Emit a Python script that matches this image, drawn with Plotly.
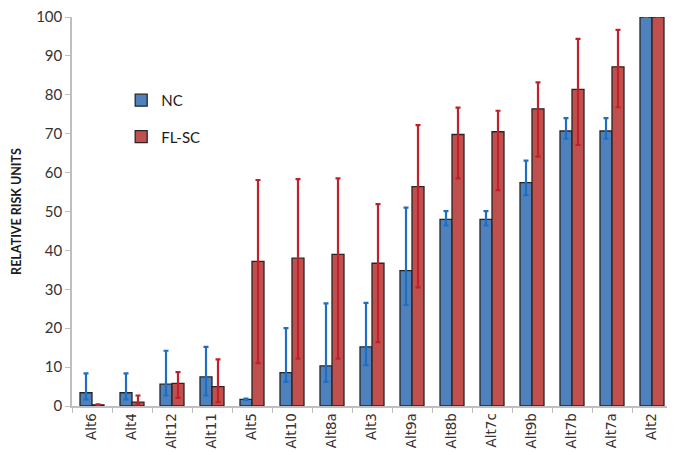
import plotly.graph_objects as go

categories = ["Alt6", "Alt4", "Alt12", "Alt11", "Alt5", "Alt10", "Alt8a", "Alt3",
              "Alt9a", "Alt8b", "Alt7c", "Alt9b", "Alt7b", "Alt7a", "Alt2"]

nc_values = [3.4, 3.4, 5.6, 7.5, 1.7, 8.6, 10.3, 15.2, 34.8, 48.0, 48.0, 57.4, 70.7, 70.7, 100]
nc_upper = [8.4, 8.4, 14.2, 15.2, 1.9, 20.0, 26.4, 26.5, 51.0, 50.1, 50.1, 63.1, 74.0, 74.0, 100]
nc_lower = [1.7, 1.7, 2.7, 2.7, 1.6, 6.2, 6.2, 10.5, 26.0, 46.4, 46.4, 54.2, 68.7, 68.7, 100]

fl_values = [0.3, 1.0, 5.8, 5.0, 37.2, 38.0, 39.0, 36.7, 56.4, 69.8, 70.5, 76.4, 81.4, 87.2, 100]
fl_upper = [0.4, 2.7, 8.7, 12.0, 58.1, 58.3, 58.5, 51.9, 72.2, 76.7, 75.9, 83.2, 94.4, 96.7, 100]
fl_lower = [0.2, 0.4, 2.1, 1.0, 11.0, 12.2, 12.2, 16.4, 30.5, 58.5, 55.5, 64.1, 67.1, 76.8, 100]

y_ticks = [0, 10, 20, 30, 40, 50, 60, 70, 80, 90, 100]


def diffs(vals, up, lo):
    return [u - v for u, v in zip(up, vals)], [v - l for v, l in zip(vals, lo)]


nc_plus, nc_minus = diffs(nc_values, nc_upper, nc_lower)
fl_plus, fl_minus = diffs(fl_values, fl_upper, fl_lower)

fig = go.Figure()
fig.add_trace(go.Bar(
    name="NC", x=categories, y=nc_values, legendgroup="a",
    marker=dict(color="#4F81BD", line=dict(color="#262626", width=1.3)),
    error_y=dict(type="data", symmetric=False, array=nc_plus, arrayminus=nc_minus,
                 color="#1F6FC0", thickness=2.2, width=2.5),
))
fig.add_trace(go.Bar(
    name="FL-SC", x=categories, y=fl_values, legendgroup="b",
    marker=dict(color="#C0504D", line=dict(color="#262626", width=1.3)),
    error_y=dict(type="data", symmetric=False, array=fl_plus, arrayminus=fl_minus,
                 color="#C0202A", thickness=2.2, width=2.5),
))

fig.update_layout(
    width=675, height=452,
    margin=dict(l=64, r=11, t=9, b=54),
    paper_bgcolor="white", plot_bgcolor="white",
    barmode="group", bargap=0.4, bargroupgap=0,
    font=dict(family="Lato, Open Sans, sans-serif", color="#333333"),
    legend=dict(x=0.082, y=0.828, xanchor="left", yanchor="top",
                traceorder="grouped", tracegroupgap=14,
                font=dict(size=15, color="#1a1a1a", family="Lato, sans-serif"),
                bgcolor="rgba(0,0,0,0)"),
    xaxis=dict(showline=True, linecolor="#BFBFBF", linewidth=1.5, automargin=False,
               ticks="outside", tickson="boundaries", ticklen=5, tickcolor="#BFBFBF",
               tickangle=-90, tickfont=dict(size=13.5, family="DejaVu Sans", color="#333333"),
               showgrid=False, ticklabeloverflow="allow"),
    yaxis=dict(range=[0, 100], tickvals=y_ticks, showline=True, linecolor="#BFBFBF",
               linewidth=1.5, ticks="outside", ticklen=5, tickcolor="#BFBFBF",
               showgrid=False, zeroline=False, automargin=False,
               ticklabeloverflow="allow",
               tickfont=dict(size=15, color="#333333"),
               title=dict(text="<b>RELATIVE RISK UNITS</b>", standoff=12,
                          font=dict(size=12.5, color="#1a1a1a", family="Lato, sans-serif"))),
)

fig.write_html("out.html")
